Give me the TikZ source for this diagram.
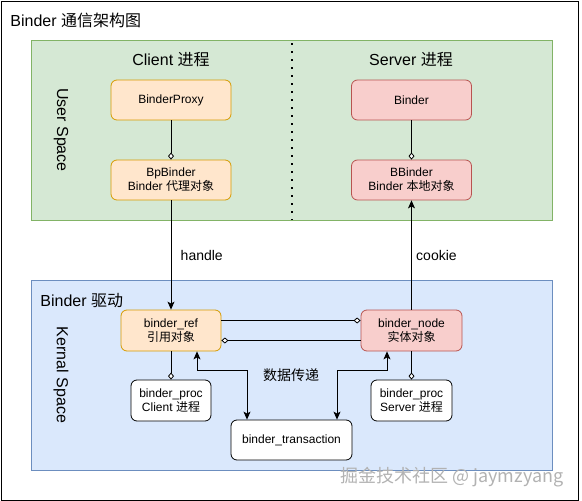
\documentclass[tikz,border=0pt]{standalone}
\usepackage{fontspec}
\setmainfont{Liberation Sans}
\newfontfamily\cjk{Noto Sans CJK SC}
\usetikzlibrary{arrows.meta, positioning}

\definecolor{clientfill}{HTML}{FFE6CC}
\definecolor{clientline}{HTML}{D79B00}
\definecolor{serverfill}{HTML}{F8CECC}
\definecolor{serverline}{HTML}{B85450}
\definecolor{userfill}{HTML}{D5E8D4}
\definecolor{userline}{HTML}{82B366}
\definecolor{kernfill}{HTML}{DAE8FC}
\definecolor{kernline}{HTML}{6C8EBF}

\begin{document}
\begin{tikzpicture}[x=1pt, y=-1pt, line width=0.8pt,
    font=\fontsize{12}{14}\selectfont,
    objbox/.style={draw, rounded corners=6pt, align=center, inner sep=0pt,
        minimum width=120pt, minimum height=40pt},
    clientobj/.style={objbox, fill=clientfill, draw=clientline},
    serverobj/.style={objbox, fill=serverfill, draw=serverline},
    kernobj/.style={objbox, fill=white, draw=black},
    bigtext/.style={font=\fontsize{16}{18}\selectfont},
    owns/.style={-{Diamond[length=7pt, width=6pt, fill=white]}},
    flow/.style={-{Stealth[length=8pt, width=7pt, inset=2pt]}},
    both/.style={{Stealth[length=8pt, width=7pt, inset=2pt]}-{Stealth[length=8pt, width=7pt, inset=2pt]}}]
    \useasboundingbox (0,0) rectangle (582,501);
    % frame and layers
    \draw[black] (1,1) rectangle (578,500);
    \node[bigtext, anchor=west, inner sep=0pt] (title) at (10,20) {Binder {\cjk 通信架构图}};
    \draw[userline, fill=userfill] (31,40) rectangle (552,220);
    \draw[kernline, fill=kernfill] (31,280) rectangle (552,470);
    \draw[line width=1.6pt, dash pattern=on 1.6pt off 6.4pt] (292,43) -- (292,220);
    \node[bigtext] (clientlbl) at (171,60) {Client {\cjk 进程}};
    \node[bigtext] (serverlbl) at (411,60) {Server {\cjk 进程}};
    \node[bigtext, rotate=-90] (userlbl) at (61,130) {User Space};
    \node[bigtext, rotate=-90] (kernlbl) at (61,375) {Kernal Space};
    \node[bigtext, anchor=west, inner sep=0pt] (drvlbl) at (40,301) {Binder {\cjk 驱动}};

    % user space objects
    \node[clientobj] (proxy) at (171,100) {BinderProxy};
    \node[clientobj] (bp) at (171,180) {BpBinder\\Binder {\cjk 代理对象}};
    \node[serverobj] (binder) at (411.5,100) {Binder};
    \node[serverobj] (bb) at (411.5,180) {BBinder\\Binder {\cjk 本地对象}};

    % kernel objects
    \node[clientobj, minimum width=100pt, minimum height=41pt] (ref) at (171,330.5) {binder\_ref\\{\cjk 引用对象}};
    \node[serverobj, minimum width=101pt, minimum height=41pt] (bnode) at (411.5,330.5) {binder\_node\\{\cjk 实体对象}};
    \node[kernobj, minimum width=80pt, minimum height=41pt] (cproc) at (171,400.5) {binder\_proc\\Client {\cjk 进程}};
    \node[kernobj, minimum width=81pt, minimum height=41pt] (sproc) at (411.5,400.5) {binder\_proc\\Server {\cjk 进程}};
    \node[kernobj, minimum width=121pt] (trans) at (291.5,440) {binder\_transaction};

    % connectors
    \draw[owns] (proxy) -- (bp);
    \draw[owns] (binder) -- (bb);
    \draw[flow] (bp) -- node[right=6pt, font=\fontsize{14}{16}\selectfont] {handle} (ref);
    \draw[flow] (bnode) -- node[right=1pt, font=\fontsize{14}{16}\selectfont] {cookie} (bb);
    \draw[owns] ([yshift=10pt]ref.east) -- ([yshift=10pt]bnode.west);
    \draw[owns] ([yshift=-10pt]bnode.west) -- ([yshift=-10pt]ref.east);
    \draw[owns] (ref) -- (cproc);
    \draw[owns] (bnode) -- (sproc);
    \draw[both] ([xshift=26pt]ref.south) -- ++(0,19) -| ([xshift=-44.5pt]trans.north);
    \draw[both] ([xshift=-24.5pt]bnode.south) -- ++(0,19) -| ([xshift=45.5pt]trans.north);
    \node[font=\cjk\fontsize{14}{16}\selectfont] (datalbl) at (291,375) {数据传递};

    % watermark
    \node[anchor=east, text=gray!60, font=\cjk\fontsize{18}{20}\selectfont] (mark) at (567,477) {掘金技术社区 @ jaymzyang};
\end{tikzpicture}
\end{document}
